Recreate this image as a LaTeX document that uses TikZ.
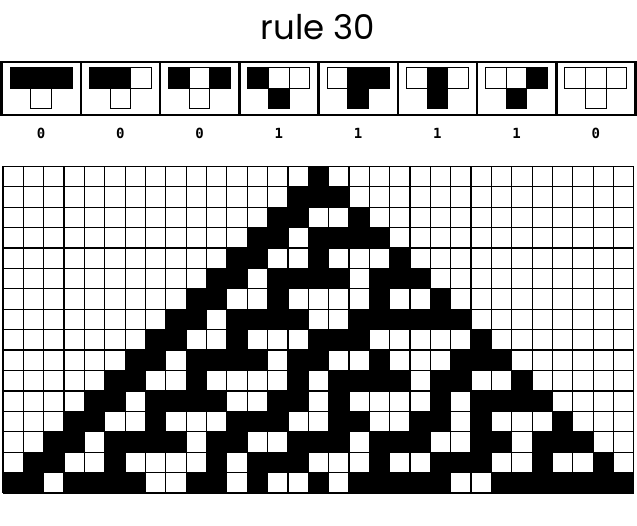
\documentclass[tikz,border=0pt]{standalone}
\usepackage{fontspec}
\setmainfont{Poppins}
\newfontfamily\digitfont{DejaVu Sans Mono}
\begin{document}
\begin{tikzpicture}[x=1pt, y=-1pt,
    rulecell/.style={draw=black, line width=1pt},
    gridline/.style={draw=black, line width=1.2pt},
    frame/.style={draw=black, line width=2.5pt},
    digit/.style={font=\digitfont\bfseries\fontsize{14}{14}\selectfont}]
    \useasboundingbox (0,0) rectangle (637,526);
    % Title
    \node[anchor=base, font=\fontsize{34}{38}\selectfont] (title) at (318,40) {rule 30};
    % Rule table: three parent cells, one child cell, new state below
    \foreach \a/\b/\c/\out [count=\k from 0] in
        {1/1/1/0, 1/1/0/0, 1/0/1/0, 1/0/0/1, 0/1/1/1, 0/1/0/1, 0/0/1/1, 0/0/0/0} {
        \pgfmathsetmacro\cx{1.5+79.25*(\k+0.5)}
        \foreach \v [count=\j from -1] in {\a,\b,\c} {
            \ifnum\v=1 \def\fc{black}\else \def\fc{white}\fi
            \draw[rulecell, fill=\fc] (\cx+20.7*\j-10.35,68) rectangle ++(20.7,20.5);
        }
        \ifnum\out=1 \def\fc{black}\else \def\fc{white}\fi
        \draw[rulecell, fill=\fc] (\cx-10.35,88.5) rectangle ++(20.7,20.5);
        \node[digit] (out\k) at (\cx,133) {\out};
    }
    \draw[frame] (1.5,62) rectangle (635.5,115);
    \foreach \k in {1,...,7}
        \draw[frame] (1.5+79.25*\k,62) -- ++(0,53);
    % Evolution from a single black cell, 16 steps
    \foreach \r/\cells in {
        0/{1},
        1/{1,1,1},
        2/{1,1,0,0,1},
        3/{1,1,0,1,1,1,1},
        4/{1,1,0,0,1,0,0,0,1},
        5/{1,1,0,1,1,1,1,0,1,1,1},
        6/{1,1,0,0,1,0,0,0,0,1,0,0,1},
        7/{1,1,0,1,1,1,1,0,0,1,1,1,1,1,1},
        8/{1,1,0,0,1,0,0,0,1,1,1,0,0,0,0,0,1},
        9/{1,1,0,1,1,1,1,0,1,1,0,0,1,0,0,0,1,1,1},
        10/{1,1,0,0,1,0,0,0,0,1,0,1,1,1,1,0,1,1,0,0,1},
        11/{1,1,0,1,1,1,1,0,0,1,1,0,1,0,0,0,0,1,0,1,1,1,1},
        12/{1,1,0,0,1,0,0,0,1,1,1,0,0,1,1,0,0,1,1,0,1,0,0,0,1},
        13/{1,1,0,1,1,1,1,0,1,1,0,0,1,1,1,0,1,1,1,0,0,1,1,0,1,1,1},
        14/{1,1,0,0,1,0,0,0,0,1,0,1,1,1,0,0,0,1,0,0,1,1,1,0,0,1,0,0,1},
        15/{1,1,0,1,1,1,1,0,0,1,1,0,1,0,0,1,0,1,1,1,1,1,0,0,1,1,1,1,1,1,1}} {
        \foreach \v [count=\i from 0] in \cells {
            \pgfmathsetmacro\col{15-\r+\i}
            \ifnum\v=1 \fill (3+20.35*\col,166.5+20.4*\r) rectangle ++(20.35,20.4); \fi
        }
    }
    \foreach \i in {0,...,31}
        \draw[gridline] (3+20.35*\i,166.5) -- ++(0,326.4);
    \foreach \r in {0,...,16}
        \draw[gridline] (3,166.5+20.4*\r) -- ++(630.85,0);
\end{tikzpicture}
\end{document}
